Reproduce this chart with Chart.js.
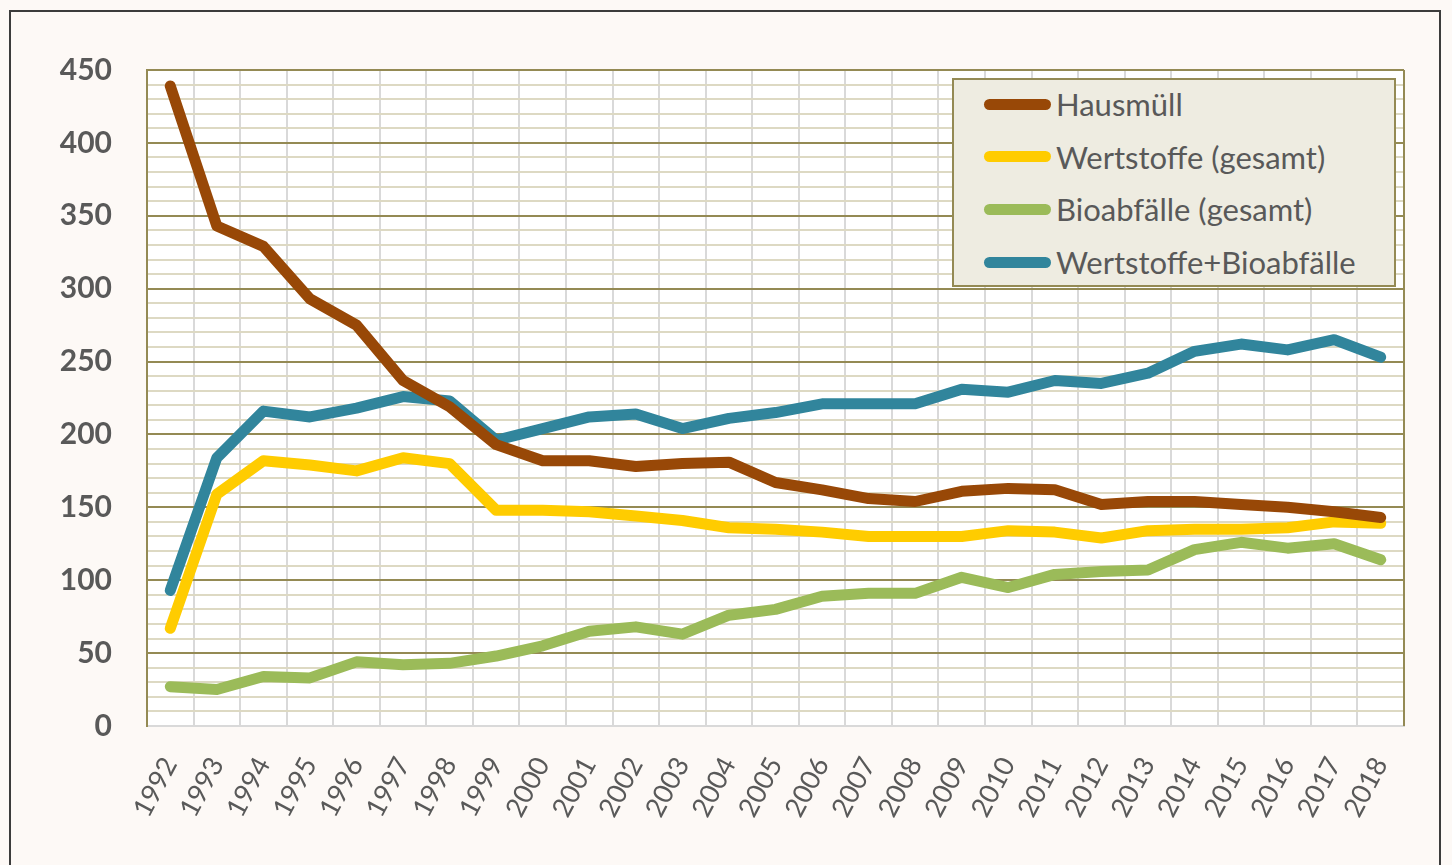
<!DOCTYPE html>
<html>
<head>
<meta charset="utf-8">
<script src="https://cdn.jsdelivr.net/npm/chart.js@4.4.1/dist/chart.umd.min.js"></script>
<style>
  html, body { margin:0; padding:0; background:#fdf9f6; overflow:hidden; }
  #wrap { position:relative; width:1452px; height:865px; }
  #frame { position:absolute; left:9px; top:10px; width:1432px; height:900px; border:2px solid #3c3c3c; box-sizing:border-box; pointer-events:none; }
  #legend { position:absolute; left:952px; top:78px; width:444px; height:209px; box-sizing:border-box;
            background:#eeece1; border:2px solid #948a54; font-family:Lato, sans-serif; font-size:31px; color:#595959; }
  #legend .row { position:absolute; left:30px; height:40px; display:flex; align-items:center; }
  #legend .swatch { width:67px; height:11px; border-radius:6px; margin-right:5px; }
</style>
</head>
<body>
<div id="wrap">
  <canvas id="chart" width="1452" height="865"></canvas>
  <div id="legend"></div>
  <div id="frame"></div>
</div>
<script>
const years = ['1992','1993','1994','1995','1996','1997','1998','1999','2000','2001','2002','2003','2004','2005',
  '2006','2007','2008','2009','2010','2011','2012','2013','2014','2015','2016','2017','2018'];

const hausmuell = [439,343,329,293,275,237,219,193,182,182,178,180,181,167,162,156,154,161,163,162,152,154,154,152,150,147,143];
const wertstoffe = [67,159,182,179,175,184,180,148,148,147,144,141,136,135,133,130,130,130,134,133,129,134,135,135,136,140,139];
const bioabfaelle = [27,25,34,33,44,42,43,48,55,65,68,63,76,80,89,91,91,102,95,104,106,107,121,126,122,125,114];
const wertBio = [93,184,216,212,218,226,223,196,204,212,214,204,211,215,221,221,221,231,229,237,235,242,257,262,258,265,253];

const yMax = 450;
const yStep = 10;
const yLabelStep = 50;

const series = [
  { label:'Hausmüll', data:hausmuell, color:'#984807' },
  { label:'Wertstoffe (gesamt)', data:wertstoffe, color:'#ffcc00' },
  { label:'Bioabfälle (gesamt)', data:bioabfaelle, color:'#9bbb59' },
  { label:'Wertstoffe+Bioabfälle', data:wertBio, color:'#31859c' }
];

const plotFrame = {
  id:'plotFrame',
  beforeDraw(chart) {
    const a = chart.chartArea, c = chart.ctx;
    c.save();
    c.fillStyle = '#ffffff';
    c.fillRect(a.left, a.top, a.right - a.left, a.bottom - a.top);
    c.restore();
  },
  afterDatasetsDraw(chart) {
    const a = chart.chartArea, c = chart.ctx;
    c.save();
    c.strokeStyle = '#948a54';
    c.lineWidth = 2;
    c.beginPath();
    c.moveTo(a.right, a.top);
    c.lineTo(a.right, a.bottom);
    c.stroke();
    c.restore();
  }
};

new Chart(document.getElementById('chart'), {
  type:'line',
  data:{
    labels:years,
    datasets:series.map(s => ({
      label:s.label, data:s.data, borderColor:s.color, backgroundColor:s.color,
      borderWidth:11, pointRadius:0, tension:0, borderCapStyle:'round', borderJoinStyle:'round'
    }))
  },
  options:{
    responsive:false, animation:false,
    layout:{ padding:{ top:70, right:48, left:0, bottom:0 } },
    plugins:{ legend:{ display:false }, tooltip:{ enabled:false } },
    scales:{
      x:{
        offset:true,
        afterFit(scale){ scale.height = 139; },
        grid:{ color:'#d9d9d9', lineWidth:2, offset:true, drawTicks:false },
        border:{ color:'#d9d9d9', width:2 },
        ticks:{ color:'#595959', font:{ family:'Lato', size:27 }, maxRotation:62, minRotation:62, padding:26, autoSkip:false }
      },
      y:{
        min:0, max:yMax,
        afterFit(scale){ scale.width = 147; },
        grid:{
          drawTicks:false,
          color:(ctx) => ctx.tick.value === 0 ? '#d9d9d9' : (ctx.tick.value % yLabelStep === 0 ? '#948a54' : '#ddd9c3'),
          lineWidth:2
        },
        border:{ color:'#948a54', width:2 },
        ticks:{
          stepSize:yStep, padding:35, color:'#595959', autoSkip:false,
          font:{ family:'Lato', size:30, weight:'bold' },
          callback:(v) => v % yLabelStep === 0 ? v : ''
        }
      }
    }
  },
  plugins:[plotFrame]
});

const legend = document.getElementById('legend');
series.forEach((s, i) => {
  const row = document.createElement('div');
  row.className = 'row';
  row.style.top = (4 + i * 52.7) + 'px';
  const sw = document.createElement('div');
  sw.className = 'swatch';
  sw.style.background = s.color;
  const txt = document.createElement('span');
  txt.textContent = s.label;
  row.appendChild(sw);
  row.appendChild(txt);
  legend.appendChild(row);
});
</script>
</body>
</html>
